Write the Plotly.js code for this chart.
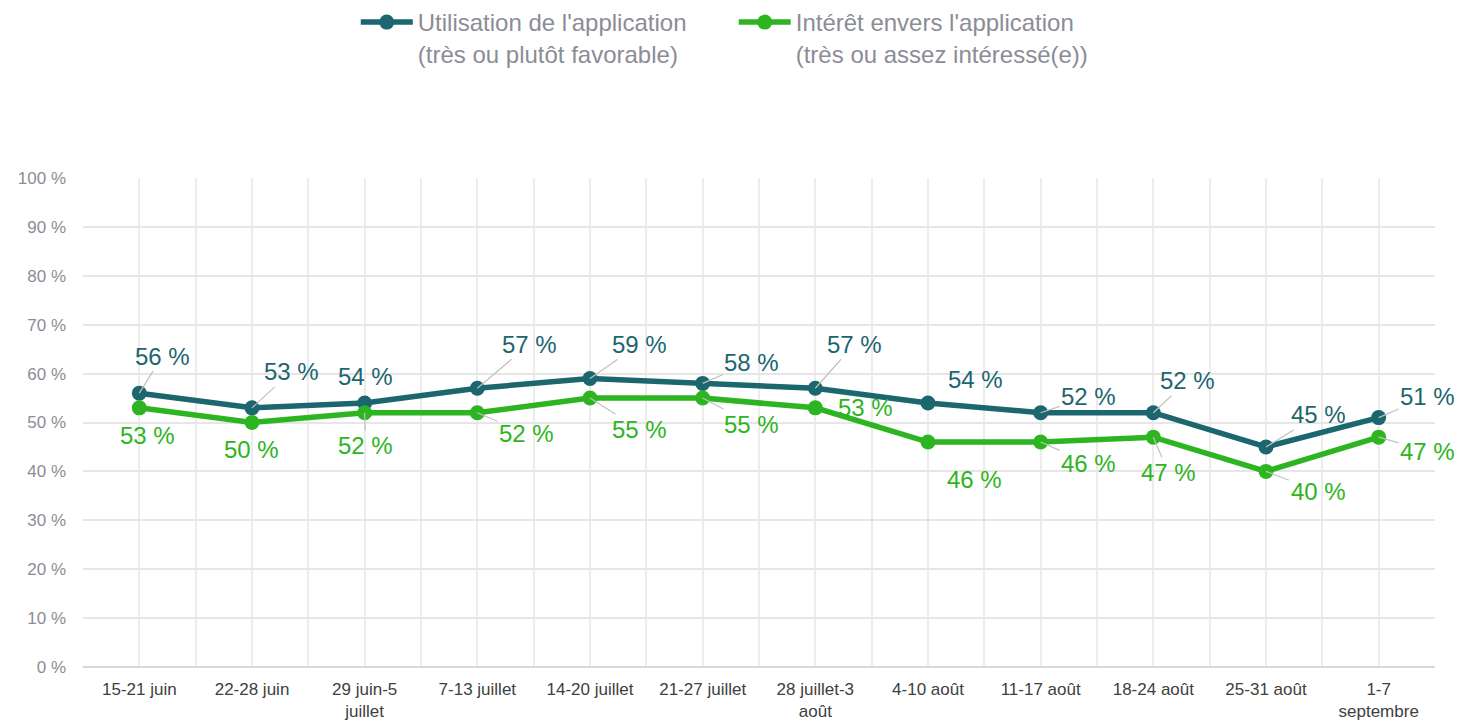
<!DOCTYPE html>
<html>
<head>
<meta charset="utf-8">
<script src="https://cdn.plot.ly/plotly-3.0.1.min.js"></script>
<style>
  html, body { margin: 0; padding: 0; background: #fff; }
  #chart { width: 1461px; height: 721px; }
</style>
</head>
<body>
<div id="chart"></div>
<script>
const weeks = ["15-21 juin", "22-28 juin", "29 juin-5<br>juillet", "7-13 juillet", "14-20 juillet",
  "21-27 juillet", "28 juillet-3<br>août", "4-10 août", "11-17 août", "18-24 août", "25-31 août", "1-7<br>septembre"];
const usage = [56, 53, 54, 57, 59, 58, 57, 54, 52, 52, 45, 51];
const interest = [53, 50, 52, 52, 55, 55, 53, 46, 46, 47, 40, 47];
const yTicks = [0, 10, 20, 30, 40, 50, 60, 70, 80, 90, 100];

// label offsets in px [dx, dy, leader line?]
const usageOffsets = [[23, -37, 1], [39, -36, 1], [1, -26, 0], [52, -44, 1], [49, -34, 1], [49, -21, 1],
  [39, -44, 1], [47, -23, 0], [48, -16, 1], [34, -32, 1], [52, -32, 1], [49, -21, 1]];
const interestOffsets = [[8, 28, 0], [-1, 27, 0], [1, 33, 1], [49, 21, 1], [49, 31, 1], [49, 26, 1],
  [50, 0, 0], [46, 37, 0], [48, 21, 1], [15, 35, 1], [52, 20, 1], [49, 14, 1]];

const teal = "#1c6670";
const green = "#2db521";
const idx = weeks.map((w, i) => i);

const traces = [
  {
    x: idx, y: usage, type: "scatter", mode: "lines+markers", legend: "legend",
    name: "Utilisation de l'application<br>(très ou plutôt favorable)",
    line: { color: teal, width: 5.5 }, marker: { color: teal, size: 15 }
  },
  {
    x: idx, y: interest, type: "scatter", mode: "lines+markers", legend: "legend2",
    name: "Intérêt envers l'application<br>(très ou assez intéressé(e))",
    line: { color: green, width: 5.5 }, marker: { color: green, size: 15 }
  }
];

function makeLabels(vals, offs, color) {
  return vals.map((v, i) => {
    const o = offs[i];
    const a = {
      x: i, y: v, xref: "x", yref: "y", text: v + " %",
      font: { family: "Liberation Sans, Arial, sans-serif", size: 24, color: color }
    };
    if (o[2]) {
      Object.assign(a, { showarrow: true, ax: o[0], ay: o[1], arrowhead: 0, arrowwidth: 1.2,
        arrowcolor: "#c0c0c0", standoff: 0 });
    } else {
      Object.assign(a, { showarrow: false, xshift: o[0], yshift: -o[1] });
    }
    return a;
  });
}

const legendStyle = {
  orientation: "h", y: 1.0, yref: "container", xref: "container", xanchor: "left", yanchor: "top",
  font: { size: 24, color: "#8c8c96" }, itemwidth: 52, valign: "top", bgcolor: "rgba(0,0,0,0)"
};

const layout = {
  width: 1461, height: 721,
  margin: { l: 83, r: 26, t: 178, b: 54 },
  paper_bgcolor: "#fff", plot_bgcolor: "#fff",
  font: { family: "Liberation Sans, Arial, sans-serif", color: "#8c8c96" },
  showlegend: true,
  legend: Object.assign({}, legendStyle, { x: 0.2435 }),
  legend2: Object.assign({}, legendStyle, { x: 0.5022 }),
  xaxis: {
    type: "linear", range: [-0.5, 11.5], tickmode: "array", tickvals: idx, ticktext: weeks,
    showgrid: true, gridcolor: "#ececec", gridwidth: 2,
    minor: { tickmode: "linear", tick0: -0.5, dtick: 1, showgrid: true, gridcolor: "#ececec", gridwidth: 2 },
    showline: false, zeroline: false, ticks: "", ticklabelstandoff: 10,
    tickfont: { size: 17, color: "#404040" }, fixedrange: true
  },
  yaxis: {
    range: [0, 100], tickmode: "array", tickvals: yTicks, ticktext: yTicks.map(v => v + " %"),
    showgrid: true, gridcolor: "#e6e6e6", gridwidth: 2, zeroline: true, zerolinecolor: "#d9d9d9", zerolinewidth: 2,
    tickfont: { size: 17, color: "#8c8c96" }, ticks: "", ticklabelstandoff: 16
  },
  annotations: makeLabels(usage, usageOffsets, teal).concat(makeLabels(interest, interestOffsets, green))
};

Plotly.newPlot("chart", traces, layout, { displayModeBar: false, responsive: false });
</script>
</body>
</html>
